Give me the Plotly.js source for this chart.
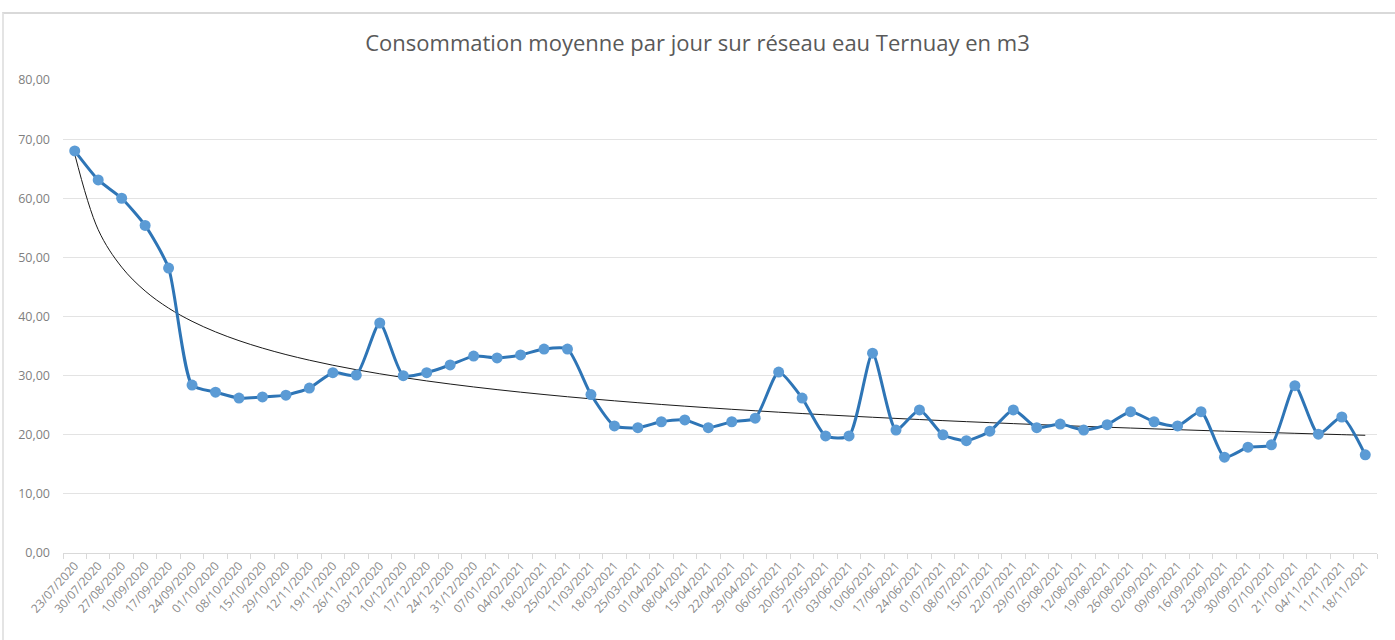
<!DOCTYPE html>
<html>
<head>
<meta charset="utf-8">
<script src="https://cdn.plot.ly/plotly-3.0.1.min.js"></script>
<style>
  html, body { margin: 0; padding: 0; background: #fff; }
  #chart { position: absolute; left: 0; top: 0; width: 1395px; height: 640px; }
  #frame { position: absolute; left: 2px; top: 12px; width: 1400px; height: 640px; border-top: 2px solid #d9d9d9; border-left: 2px solid #e4e4e4; pointer-events: none; }
</style>
</head>
<body>
<div id="chart"></div>
<div id="frame"></div>
<script>
const dates = [
  "23/07/2020","30/07/2020","27/08/2020","10/09/2020","17/09/2020","24/09/2020","01/10/2020","08/10/2020",
  "15/10/2020","29/10/2020","12/11/2020","19/11/2020","26/11/2020","03/12/2020","10/12/2020","17/12/2020",
  "24/12/2020","31/12/2020","07/01/2021","04/02/2021","18/02/2021","25/02/2021","11/03/2021","18/03/2021",
  "25/03/2021","01/04/2021","08/04/2021","15/04/2021","22/04/2021","29/04/2021","06/05/2021","20/05/2021",
  "27/05/2021","03/06/2021","10/06/2021","17/06/2021","24/06/2021","01/07/2021","08/07/2021","15/07/2021",
  "22/07/2021","29/07/2021","05/08/2021","12/08/2021","19/08/2021","26/08/2021","02/09/2021","09/09/2021",
  "16/09/2021","23/09/2021","30/09/2021","07/10/2021","21/10/2021","04/11/2021","11/11/2021","18/11/2021"
];
const consumption = [
  68.0, 63.1, 60.0, 55.4, 48.2, 28.4, 27.2, 26.2,
  26.4, 26.7, 27.9, 30.5, 30.1, 38.9, 30.0, 30.5,
  31.8, 33.3, 33.0, 33.5, 34.5, 34.5, 26.8, 21.5,
  21.2, 22.2, 22.5, 21.2, 22.2, 22.8, 30.6, 26.2,
  19.8, 19.8, 33.8, 20.8, 24.2, 20.0, 19.0, 20.6,
  24.2, 21.2, 21.8, 20.8, 21.7, 23.9, 22.2, 21.5,
  23.9, 16.2, 17.9, 18.3, 28.3, 20.1, 23.0, 16.6
];
const titleText = "Consommation moyenne par jour sur réseau eau Ternuay en m3";
const yTicks = [0, 10, 20, 30, 40, 50, 60, 70, 80];

// Power trendline (least squares in log-log space), as a spreadsheet would compute it
const n = consumption.length;
let sx = 0, sy = 0, sxx = 0, sxy = 0;
for (let i = 0; i < n; i++) {
  const lx = Math.log(i + 1), ly = Math.log(consumption[i]);
  sx += lx; sy += ly; sxx += lx * lx; sxy += lx * ly;
}
const b = (n * sxy - sx * sy) / (n * sxx - sx * sx);
const lnA = (sy - b * sx) / n;
const trend = consumption.map((_, i) => Math.exp(lnA) * Math.pow(i + 1, b));

const traces = [
  {
    x: dates, y: trend, type: "scatter", mode: "lines",
    line: { color: "#1a1a1a", width: 1, shape: "spline", smoothing: 1 },
    hoverinfo: "skip"
  },
  {
    x: dates, y: consumption, type: "scatter", mode: "lines+markers",
    line: { color: "#2e75b6", width: 3, shape: "spline", smoothing: 0.6 },
    marker: { color: "#5b9bd5", size: 11, line: { width: 0 } },
    hoverinfo: "x+y"
  }
];

const layout = {
  width: 1395, height: 640,
  margin: { l: 63, r: 18, t: 80, b: 87 },
  paper_bgcolor: "#ffffff", plot_bgcolor: "#ffffff",
  showlegend: false,
  separators: ", ",
  font: { family: "Open Sans, sans-serif", color: "#7f7f7f" },
  title: {
    text: titleText, x: 0.5, xanchor: "center", y: 0.933, yanchor: "middle",
    font: { size: 22, color: "#595959", family: "Open Sans, sans-serif" }
  },
  xaxis: {
    type: "category", range: [-0.5, n - 0.5],
    tickangle: -48, tickfont: { size: 12, color: "#8a8a8a" },
    tickson: "boundaries", ticks: "outside", ticklen: 5, tickcolor: "#d9d9d9",
    showline: true, linecolor: "#d9d9d9", linewidth: 1,
    showgrid: false, zeroline: false, fixedrange: true
  },
  yaxis: {
    range: [0, 80], tickvals: yTicks, tickformat: ".2f",
    tickfont: { size: 12.5, color: "#7f7f7f" },
    showgrid: true, gridcolor: "#e3e3e3", gridwidth: 1,
    zeroline: false, showline: false, ticks: "", ticklabelstandoff: 12,
    fixedrange: true
  }
};

Plotly.newPlot("chart", traces, layout, { displayModeBar: false, staticPlot: true });
</script>
</body>
</html>
